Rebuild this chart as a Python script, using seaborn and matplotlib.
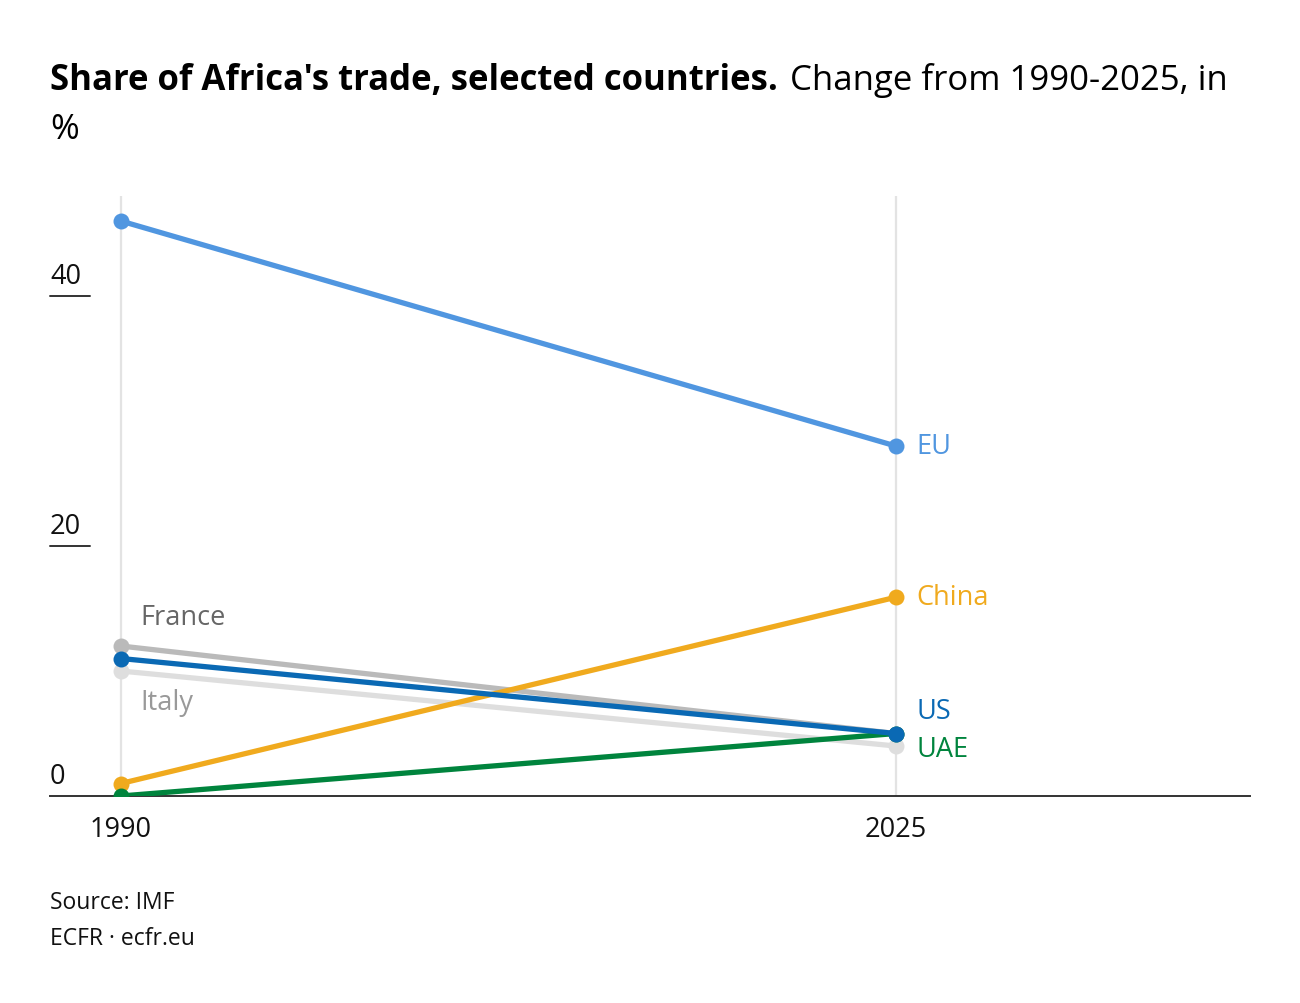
import matplotlib
matplotlib.use("Agg")
import matplotlib.pyplot as plt
import matplotlib.transforms as mtransforms
import seaborn as sns
import pandas as pd

# ---- data ----
years = [1990, 2025]
countries = ["France", "Italy", "EU", "China", "UAE", "US"]
france = [12.0, 5.0]
italy = [10.0, 4.0]
eu = [46.0, 28.0]
china = [1.0, 15.9]
us = [11.0, 5.0]
uae = [0.0, 5.0]
y_ticks = [0, 20, 40]
x_tick_labels = ["1990", "2025"]

colors = {
    "France": "#bababa",
    "Italy": "#dedede",
    "EU": "#5096e0",
    "China": "#f0aa1e",
    "US": "#0a69b4",
    "UAE": "#00843d",
}
label_colors = {
    "France": "#666666",
    "Italy": "#999999",
    "EU": "#5096e0",
    "China": "#f0aa1e",
    "US": "#0a69b4",
    "UAE": "#00843d",
}
series = {"France": france, "Italy": italy, "EU": eu, "China": china, "US": us, "UAE": uae}

rows = []
for c in countries:
    for yr, v in zip(years, series[c]):
        rows.append({"country": c, "year": yr, "value": v})
df = pd.DataFrame(rows)

sns.set_theme(style="white")
plt.rcParams["font.family"] = ["Open Sans", "DejaVu Sans"]

fig = plt.figure(figsize=(13, 10.04), dpi=100)
ax = fig.add_axes([50 / 1300, 1 - 797 / 1004, 1200 / 1300, 600 / 1004])

# vertical gridlines
for yr in years:
    ax.axvline(yr, color="#e3e3e3", lw=1.6, zorder=0)

sns.lineplot(data=df, x="year", y="value", hue="country", hue_order=countries,
             palette=colors, marker="o", markersize=11.5, markeredgewidth=0,
             linewidth=3.8, legend=False, ax=ax, zorder=3)

ax.set_xlim(1986.8, 2041.0)
ax.set_ylim(0, 48)
for s in ["top", "right", "left"]:
    ax.spines[s].set_visible(False)
ax.spines["bottom"].set_color("#333333")
ax.spines["bottom"].set_linewidth(1.4)
ax.spines["bottom"].set_zorder(1)

FS = 19.5
ax.set_xticks(years)
ax.set_xticklabels(x_tick_labels, fontsize=FS, color="#111111")
ax.tick_params(axis="x", length=0, pad=14)
ax.set_yticks([])
ax.set_xlabel("")
ax.set_ylabel("")

# y tick labels with short underline
blend = mtransforms.blended_transform_factory(ax.transAxes, ax.transData)
for t in y_ticks:
    ax.text(0, t + 0.5, f"{t}", transform=blend, ha="left", va="bottom",
            fontsize=FS, color="#111111")
    if t != 0:
        ax.plot([0, 40 / 1200], [t, t], transform=blend, color="#333333",
                lw=1.4, clip_on=False)

# country labels
end_offsets = {"EU": (15, 0), "China": (15, 0), "US": (15, 16), "UAE": (15, -11)}
for c, off in end_offsets.items():
    ax.annotate(c, xy=(years[1], series[c][1]), xytext=off, textcoords="offset points",
                ha="left", va="center", fontsize=FS, color=label_colors[c])
ax.annotate("France", xy=(years[0], france[0]), xytext=(14, 21), textcoords="offset points",
            ha="left", va="center", fontsize=FS, color=label_colors["France"])
ax.annotate("Italy", xy=(years[0], italy[0]), xytext=(14, -22), textcoords="offset points",
            ha="left", va="center", fontsize=FS, color=label_colors["Italy"])

# title
TFS = 25
t1 = fig.text(50 / 1300, 1 - 90 / 1004, "Share of Africa's trade, selected countries.",
              fontsize=TFS, fontweight="bold", color="#000000", ha="left", va="baseline")
fig.canvas.draw()
bb = t1.get_window_extent(renderer=fig.canvas.get_renderer())
fig.text((bb.x1 + 12) / 1300, 1 - 90 / 1004, "Change from 1990-2025, in",
         fontsize=TFS, color="#000000", ha="left", va="baseline")
fig.text(50 / 1300, 1 - 139 / 1004, "%", fontsize=TFS, color="#000000",
         ha="left", va="baseline")

# source
fig.text(50 / 1300, 1 - 909 / 1004, "Source: IMF", fontsize=16.5, color="#111111",
         ha="left", va="baseline")
fig.text(50 / 1300, 1 - 945 / 1004, "ECFR \u00b7 ecfr.eu", fontsize=16.5, color="#111111",
         ha="left", va="baseline")

fig.savefig("out.png", dpi=100, facecolor="white")
